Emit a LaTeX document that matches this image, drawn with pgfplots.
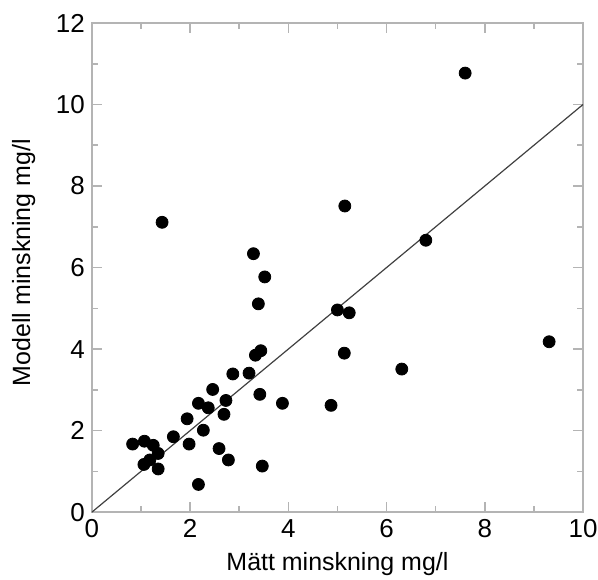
\documentclass[border=0pt]{standalone}
\usepackage{fontspec}
\setmainfont{Liberation Sans}
\usepackage{pgfplots}
\pgfplotsset{compat=1.18}
\definecolor{axgrey}{RGB}{180,180,180}
\begin{document}
\begin{tikzpicture}
\begin{axis}[
  scale only axis,
  width=246pt, height=245pt,
  xmin=0, xmax=10, ymin=0, ymax=12,
  xtick={0,2,...,10}, ytick={0,2,...,12},
  minor xtick={1,3,...,9}, minor ytick={1,3,...,11},
  tick align=inside,
  major tick length=5pt, minor tick length=3pt,
  axis line style={axgrey, line width=0.8pt},
  tick style={axgrey, line width=0.8pt},
  every tick label/.append style={font=\fontsize{13}{15}\selectfont},
  /pgf/number format/assume math mode=true,
  xlabel={Mätt minskning mg/l},
  ylabel={Modell minskning mg/l},
  label style={font=\fontsize{12.5}{14}\selectfont},
  xlabel style={yshift=-0.5pt},
  ylabel style={yshift=3.4pt, xshift=2.5pt},
  clip=true,
]
\addplot[color=black!75, line width=0.6pt, forget plot] coordinates {(0,0) (10,10)};
\addplot[only marks, mark=*, mark size=3pt, color=black] coordinates {
(0.83,1.67) (1.07,1.74) (1.25,1.64) (1.35,1.44) (1.18,1.28) (1.06,1.17)
(1.35,1.06) (1.66,1.85) (1.98,1.67) (1.94,2.29) (2.17,2.67) (2.37,2.56)
(2.27,2.01) (2.46,3.01) (2.73,2.74) (2.69,2.40) (2.59,1.56) (2.78,1.28)
(2.17,0.68) (2.87,3.39) (3.20,3.41) (3.33,3.85) (3.44,3.96) (3.42,2.89)
(3.47,1.13) (3.88,2.67)
(5.15,7.51) (6.80,6.67) (5.00,4.96) (5.24,4.89) (5.14,3.90) (6.31,3.51)
(4.87,2.62) (9.31,4.18)
(7.60,10.77) (1.43,7.11) (3.29,6.34) (3.52,5.77) (3.39,5.11)
};
\end{axis}
\pgfresetboundingbox
\path ([shift={(-46pt,-33.5pt)}]current axis.south west) rectangle ([shift={(7.5pt,11.5pt)}]current axis.north east);
\end{tikzpicture}
\end{document}
